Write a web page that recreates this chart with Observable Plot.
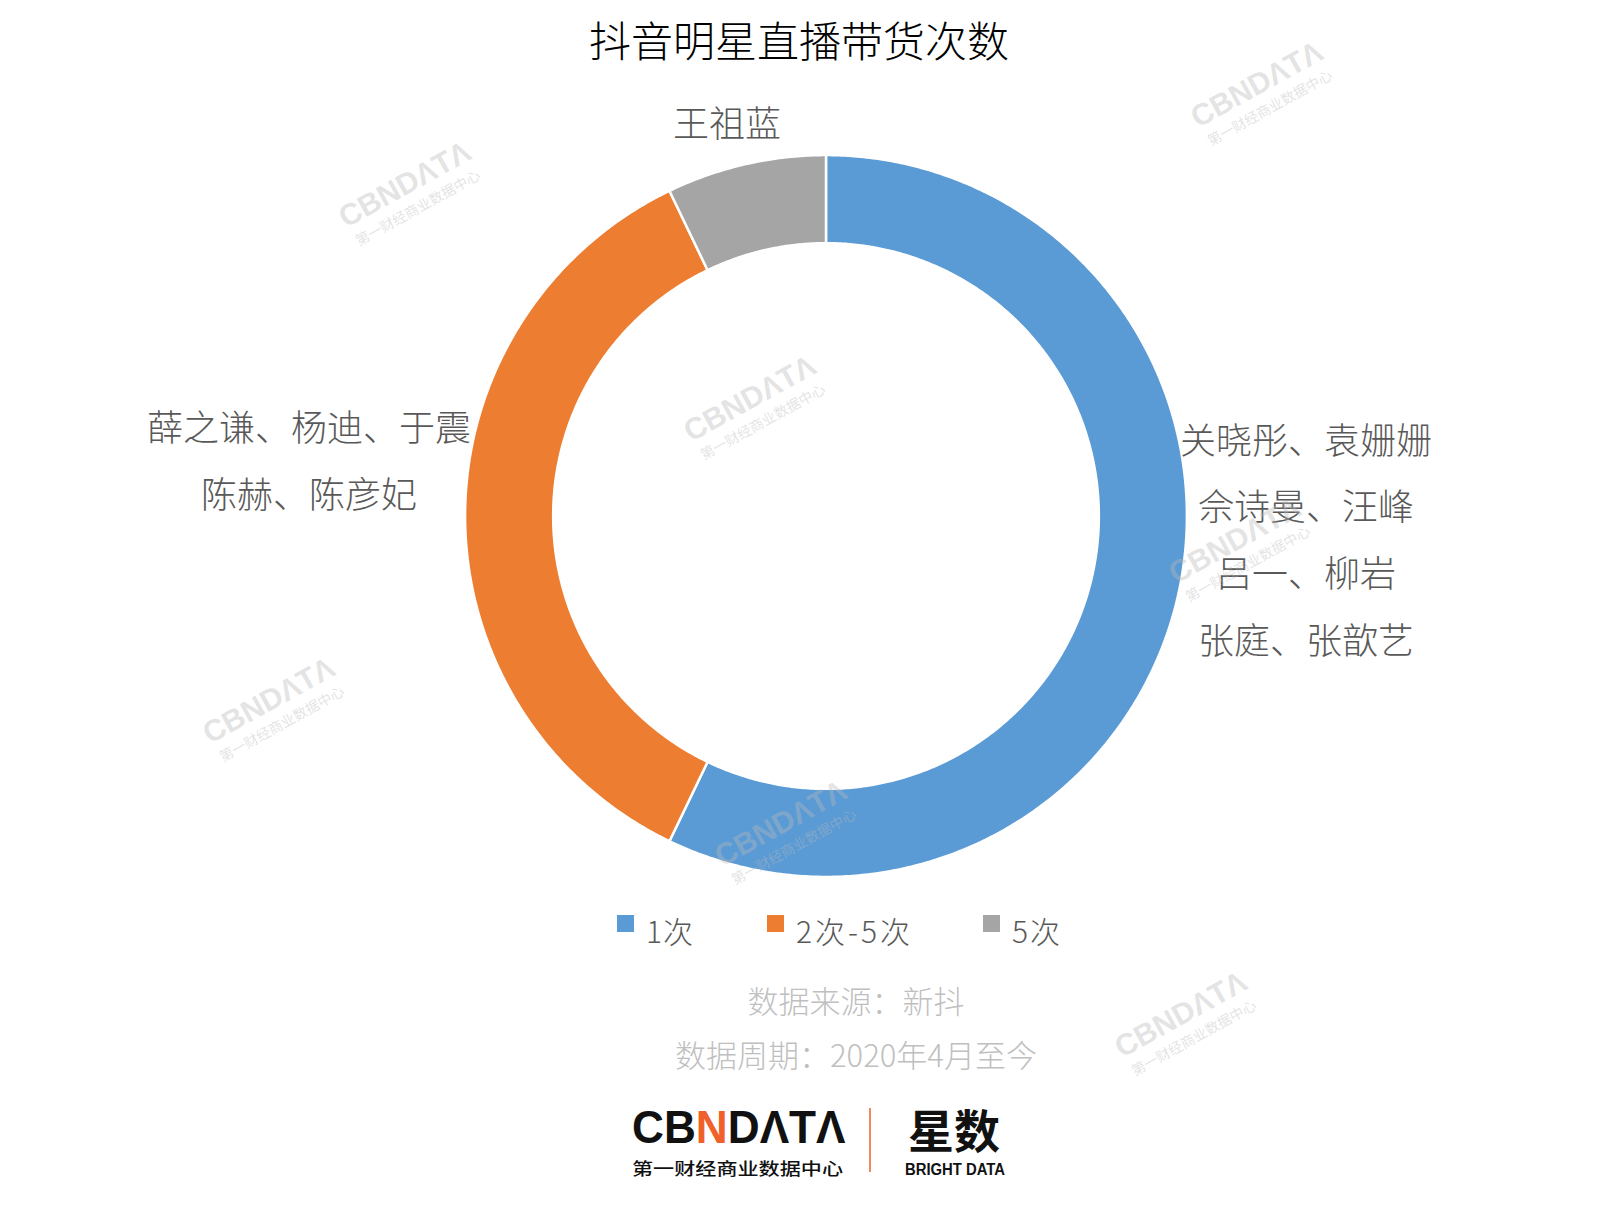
<!DOCTYPE html>
<html>
<head>
<meta charset="utf-8">
<script src="https://cdn.jsdelivr.net/npm/d3@7"></script>
<script src="https://cdn.jsdelivr.net/npm/@observablehq/plot@0.6"></script>
<style>
html,body{margin:0;padding:0;background:#fff;}
#page{position:relative;width:1613px;height:1209px;overflow:hidden;font-family:"Noto Sans CJK SC","Noto Sans",sans-serif;}
#chart{position:absolute;left:429px;top:119px;}
#overlay{position:absolute;left:0;top:0;pointer-events:none;}
</style>
</head>
<body>
<div id="page"><div id="chart"></div></div>
<script>
// ---- data ----
const title = "抖音明星直播带货次数";
const categories = ["1次", "2次-5次", "5次"];
const counts = [8, 5, 1];
const colors = ["#5B9BD5", "#ED7D31", "#A5A5A5"];
const labelLines = [
  ["关晓彤、袁姗姗", "佘诗曼、汪峰", "吕一、柳岩", "张庭、张歆艺"],
  ["薛之谦、杨迪、于震", "陈赫、陈彦妃"],
  ["王祖蓝"]
];
const sourceLines = ["数据来源：新抖", "数据周期：2020年4月至今"];

// ---- donut through Plot area mark ----
const size = 794;
const R = 1, r = 0.756;
const data = categories.map((c, i) => ({cat: c, count: counts[i]}));
const arcs = d3.pie().sort(null).value(d => d.count)(data);
const rows = arcs.flatMap(a => {
  const n = Math.max(2, Math.ceil((a.endAngle - a.startAngle) / (Math.PI / 360)));
  return d3.range(n + 1).map(k => {
    const t = a.startAngle + (a.endAngle - a.startAngle) * k / n;
    return {cat: a.data.cat, ox: R * Math.sin(t), oy: R * Math.cos(t), ix: r * Math.sin(t), iy: r * Math.cos(t)};
  });
});

const chart = Plot.plot({
  width: size, height: size, margin: 0,
  style: {background: "transparent"},
  x: {domain: [-1.1, 1.1], axis: null},
  y: {domain: [-1.1, 1.1], axis: null},
  color: {domain: categories, range: colors},
  marks: [
    Plot.area(rows, {x1: "ox", y1: "oy", x2: "ix", y2: "iy", z: "cat", fill: "cat", stroke: "#ffffff", strokeWidth: 2.5, curve: "linear"})
  ]
});
document.getElementById("chart").appendChild(chart);

// ---- overlay texts ----
const NS = "http://www.w3.org/2000/svg";
const svg = document.createElementNS(NS, "svg");
svg.setAttribute("id", "overlay");
svg.setAttribute("width", 1613);
svg.setAttribute("height", 1209);
document.getElementById("page").appendChild(svg);

function txt(parent, s, attrs) {
  const t = document.createElementNS(NS, "text");
  for (const k in attrs) t.setAttribute(k, attrs[k]);
  t.textContent = s;
  parent.appendChild(t);
  return t;
}
const cjk = '"Noto Sans CJK SC","Noto Sans",sans-serif';

txt(svg, title, {x: 799, y: 38, "font-size": 42, "font-weight": 300, fill: "#000", "text-anchor": "middle", "dominant-baseline": "central", "font-family": cjk});

// labels
const labelPos = [
  {x: 1306, y0: 437.5, dy: 66.7},
  {x: 309, y0: 425, dy: 67},
  {x: 727, y0: 121, dy: 0}
];
labelLines.forEach((lines, i) => {
  lines.forEach((s, j) => {
    txt(svg, s, {x: labelPos[i].x, y: labelPos[i].y0 + j * labelPos[i].dy, "font-size": 36, "font-weight": 300, fill: "#595959", "text-anchor": "middle", "dominant-baseline": "central", "font-family": cjk});
  });
});

// legend
const legendX = [617, 767, 983];
const legendW = [47, 114, 48];
categories.forEach((c, i) => {
  const rect = document.createElementNS(NS, "rect");
  rect.setAttribute("x", legendX[i]); rect.setAttribute("y", 915);
  rect.setAttribute("width", 17); rect.setAttribute("height", 17);
  rect.setAttribute("fill", colors[i]);
  svg.appendChild(rect);
  txt(svg, c, {x: legendX[i] + 29, y: 930, "font-size": 30, "font-weight": 300, fill: "#595959", "dominant-baseline": "central", "font-family": cjk, textLength: legendW[i], lengthAdjust: "spacing"});
});

// source
sourceLines.forEach((s, j) => {
  txt(svg, s, {x: 856, y: 999 + j * 54, "font-size": 31, "font-weight": 300, fill: "#bfbfbf", "text-anchor": "middle", "dominant-baseline": "central", "font-family": cjk});
});

// logo
const latin = '"Liberation Sans",Arial,sans-serif';
const logo = txt(svg, "", {x: 0, y: 0, transform: "translate(632,1143) scale(0.94,1)", "font-size": 47, "font-weight": 700, fill: "#111", "font-family": latin});
[["CB", "#111"], ["N", "#F0602A"], ["DΛTΛ", "#111"]].forEach(([s, f]) => {
  const ts = document.createElementNS(NS, "tspan");
  ts.setAttribute("fill", f); ts.textContent = s; logo.appendChild(ts);
});
txt(svg, "第一财经商业数据中心", {x: 632, y: 1167, "font-size": 17, "font-weight": 500, fill: "#111", "dominant-baseline": "central", "font-family": cjk, textLength: 211, lengthAdjust: "spacingAndGlyphs"});
const ln = document.createElementNS(NS, "line");
ln.setAttribute("x1", 870); ln.setAttribute("x2", 870); ln.setAttribute("y1", 1108); ln.setAttribute("y2", 1172);
ln.setAttribute("stroke", "#F0602A"); ln.setAttribute("stroke-width", 1.5);
svg.appendChild(ln);
txt(svg, "星数", {x: 954, y: 1128, "font-size": 46, "font-weight": 700, fill: "#111", "text-anchor": "middle", "dominant-baseline": "central", "font-family": cjk});
txt(svg, "BRIGHT DATA", {x: 905, y: 1175, "font-size": 16, "font-weight": 700, fill: "#111", "font-family": latin, textLength: 100, lengthAdjust: "spacingAndGlyphs"});

// watermarks
const wm = [[410, 194], [755, 408], [1262, 94], [274, 710], [786, 833], [1186, 1024], [1240, 550]];
wm.forEach(([cx, cy]) => {
  const g = document.createElementNS(NS, "g");
  g.setAttribute("transform", `translate(${cx},${cy}) rotate(-29)`);
  g.setAttribute("fill", "rgba(185,185,185,0.4)");
  svg.appendChild(g);
  txt(g, "CBNDΛTΛ", {x: 0, y: -1, "font-size": 30, "font-weight": 700, "text-anchor": "middle", "font-family": latin, textLength: 145, lengthAdjust: "spacingAndGlyphs"});
  txt(g, "第一财经商业数据中心", {x: 0, y: 15, "font-size": 14, "text-anchor": "middle", "dominant-baseline": "central", "font-family": cjk, textLength: 140, lengthAdjust: "spacingAndGlyphs"});
});
</script>
</body>
</html>
